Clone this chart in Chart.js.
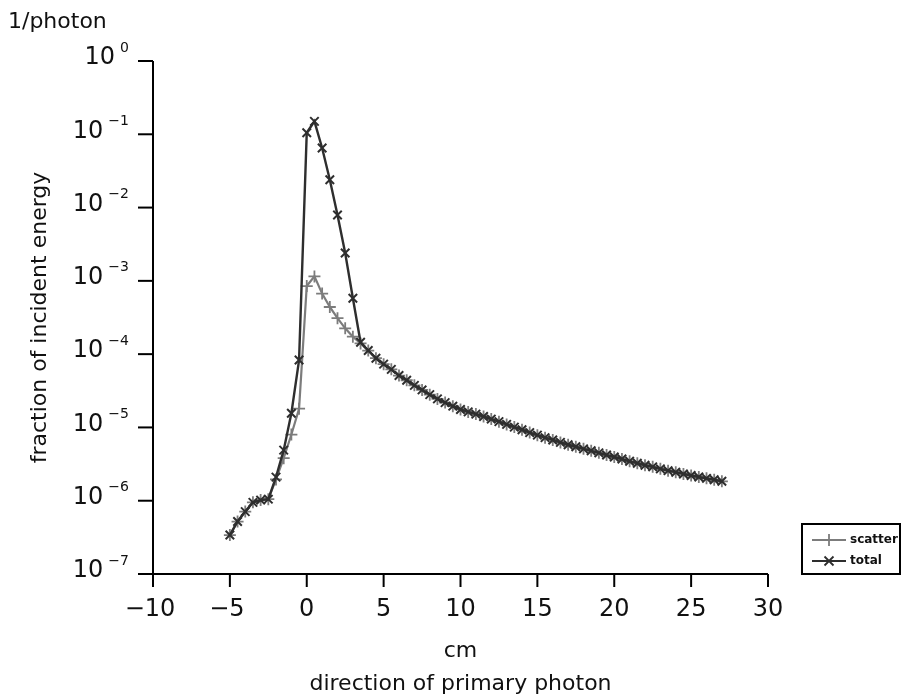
<!DOCTYPE html>
<html>
<head>
<meta charset="utf-8">
<script src="https://cdn.jsdelivr.net/npm/chart.js@4/dist/chart.umd.min.js"></script>
<style>
html, body { margin: 0; background: #fff; }
#caixa { width: 904px; height: 697px; }
</style>
</head>
<body>
<div id="caixa"><canvas id="grafico"></canvas></div>
<script>
// posicao (cm) ao longo da direcao do foton primario
const posicoes = [-5, -4.5, -4, -3.5, -3, -2.5, -2, -1.5, -1, -0.5, 0, 0.5, 1, 1.5, 2, 2.5, 3, 3.5,
    4, 4.5, 5, 5.5, 6, 6.5, 7, 7.5, 8, 8.5, 9, 9.5, 10, 10.5, 11, 11.5, 12, 12.5, 13, 13.5, 14, 14.5,
    15, 15.5, 16, 16.5, 17, 17.5, 18, 18.5, 19, 19.5, 20, 20.5, 21, 21.5, 22, 22.5, 23, 23.5, 24, 24.5,
    25, 25.5, 26, 26.5, 27];

const totalVals = [3.4e-7, 5.2e-7, 7.1e-7, 9.5e-7, 1.02e-6, 1.05e-6, 2.1e-6, 4.9e-6, 1.56e-5, 8.3e-5,
    0.105, 0.15, 0.065, 0.024, 0.0079, 0.0024, 5.8e-4, 1.45e-4,
    1.12e-4, 8.8e-5, 7.3e-5, 6.2e-5, 5.1e-5, 4.4e-5, 3.75e-5, 3.25e-5, 2.8e-5, 2.45e-5, 2.18e-5, 1.95e-5,
    1.76e-5, 1.63e-5, 1.52e-5, 1.41e-5, 1.30e-5, 1.20e-5, 1.10e-5, 1.01e-5, 9.3e-6, 8.5e-6,
    7.85e-6, 7.25e-6, 6.75e-6, 6.25e-6, 5.8e-6, 5.45e-6, 5.1e-6, 4.8e-6, 4.5e-6, 4.2e-6,
    3.95e-6, 3.7e-6, 3.45e-6, 3.25e-6, 3.05e-6, 2.9e-6, 2.72e-6, 2.57e-6, 2.45e-6, 2.32e-6,
    2.21e-6, 2.11e-6, 2.02e-6, 1.93e-6, 1.84e-6];

const scatterVals = [3.4e-7, 5.2e-7, 7.1e-7, 9.5e-7, 1.02e-6, 1.05e-6, 1.95e-6, 3.8e-6, 8.0e-6, 1.8e-5,
    8.5e-4, 1.15e-3, 6.7e-4, 4.4e-4, 3.1e-4, 2.25e-4, 1.73e-4, 1.4e-4,
    1.12e-4, 8.8e-5, 7.3e-5, 6.2e-5, 5.1e-5, 4.4e-5, 3.75e-5, 3.25e-5, 2.8e-5, 2.45e-5, 2.18e-5, 1.95e-5,
    1.76e-5, 1.63e-5, 1.52e-5, 1.41e-5, 1.30e-5, 1.20e-5, 1.10e-5, 1.01e-5, 9.3e-6, 8.5e-6,
    7.85e-6, 7.25e-6, 6.75e-6, 6.25e-6, 5.8e-6, 5.45e-6, 5.1e-6, 4.8e-6, 4.5e-6, 4.2e-6,
    3.95e-6, 3.7e-6, 3.45e-6, 3.25e-6, 3.05e-6, 2.9e-6, 2.72e-6, 2.57e-6, 2.45e-6, 2.32e-6,
    2.21e-6, 2.11e-6, 2.02e-6, 1.93e-6, 1.84e-6];

const ticksX = [-10, -5, 0, 5, 10, 15, 20, 25, 30];
const expoentesY = [0, -1, -2, -3, -4, -5, -6, -7];
const legendas = ['scatter', 'total'];

const FONTE = "'DejaVu Sans', sans-serif";
const COR_TOTAL = '#2e2e2e';
const COR_SCATTER = '#7c7c7c';

const pontos = vals => posicoes.map((x, i) => ({ x: x, y: vals[i] }));

function numero(v) {
    return v < 0 ? '\u2212' + Math.abs(v) : String(v);
}

function marcador(ctx, tipo, x, y, r) {
    ctx.beginPath();
    if (tipo === 'cross') {
        ctx.moveTo(x - r, y); ctx.lineTo(x + r, y);
        ctx.moveTo(x, y - r); ctx.lineTo(x, y + r);
    } else {
        const d = r * 0.75;
        ctx.moveTo(x - d, y - d); ctx.lineTo(x + d, y + d);
        ctx.moveTo(x - d, y + d); ctx.lineTo(x + d, y - d);
    }
    ctx.stroke();
}

const eixosPlugin = {
    id: 'eixos',
    afterDraw(chart) {
        const ctx = chart.ctx;
        const sx = chart.scales.x, sy = chart.scales.y;
        const area = chart.chartArea;
        ctx.save();
        ctx.strokeStyle = '#000';
        ctx.fillStyle = '#111';
        ctx.lineWidth = 2;

        // linhas dos eixos
        ctx.beginPath();
        ctx.moveTo(area.left - 8, area.bottom); ctx.lineTo(area.right, area.bottom);
        ctx.moveTo(area.left, area.top); ctx.lineTo(area.left, area.bottom + 6);
        ctx.stroke();

        // eixo x
        ctx.font = '24px ' + FONTE;
        ctx.textAlign = 'center';
        ctx.textBaseline = 'middle';
        ticksX.forEach(t => {
            const px = sx.getPixelForValue(t);
            ctx.beginPath(); ctx.moveTo(px, area.bottom); ctx.lineTo(px, area.bottom + 13); ctx.stroke();
            ctx.fillText(numero(t), px - (t < 0 ? 3 : 0), area.bottom + 36);
        });

        // eixo y (potencias de 10)
        expoentesY.forEach(e => {
            const py = sy.getPixelForValue(Math.pow(10, e));
            ctx.beginPath(); ctx.moveTo(area.left - 15, py); ctx.lineTo(area.left, py); ctx.stroke();
            ctx.font = '14px ' + FONTE;
            ctx.textAlign = 'right';
            const exp = numero(e);
            const wExp = ctx.measureText(exp).width;
            ctx.fillText(exp, area.left - 24, py - 13);
            ctx.font = '24px ' + FONTE;
            ctx.fillText('10', area.left - 24 - wExp - 5, py - 3);
        });

        // titulos
        ctx.font = '22px ' + FONTE;
        ctx.textAlign = 'left';
        ctx.fillText('1/photon', 8, 22);
        ctx.textAlign = 'center';
        ctx.fillText('cm', (area.left + area.right) / 2, 651);
        ctx.fillText('direction of primary photon', (area.left + area.right) / 2, 684);
        ctx.save();
        ctx.translate(40, (area.top + area.bottom) / 2);
        ctx.rotate(-Math.PI / 2);
        ctx.fillText('fraction of incident energy', 0, 0);
        ctx.restore();

        // legenda
        ctx.lineWidth = 2;
        ctx.strokeStyle = '#000';
        ctx.strokeRect(802, 524, 98, 50);
        ctx.font = 'bold 12px ' + FONTE;
        ctx.textAlign = 'left';
        const estilos = [[COR_SCATTER, 'cross'], [COR_TOTAL, 'crossRot']];
        legendas.forEach((txt, i) => {
            const y = 540 + i * 21;
            ctx.strokeStyle = estilos[i][0];
            ctx.lineWidth = 1.8;
            ctx.beginPath(); ctx.moveTo(812, y); ctx.lineTo(846, y); ctx.stroke();
            marcador(ctx, estilos[i][1], 829, y, 6);
            ctx.fillStyle = '#111';
            ctx.fillText(txt, 850, y);
        });
        ctx.restore();
    }
};

new Chart(document.getElementById('grafico'), {
    type: 'line',
    data: {
        datasets: [
            { label: legendas[0], data: pontos(scatterVals), borderColor: COR_SCATTER, borderWidth: 2.2,
              pointStyle: 'cross', pointRadius: 6, pointBorderColor: COR_SCATTER, pointBorderWidth: 1.8,
              tension: 0, fill: false, order: 1 },
            { label: legendas[1], data: pontos(totalVals), borderColor: COR_TOTAL, borderWidth: 2.4,
              pointStyle: 'crossRot', pointRadius: 6, pointBorderColor: COR_TOTAL, pointBorderWidth: 2,
              tension: 0, fill: false, order: 0 }
        ]
    },
    options: {
        responsive: true,
        maintainAspectRatio: false,
        animation: false,
        layout: { padding: { left: 153, top: 61, right: 136, bottom: 123 } },
        plugins: { legend: { display: false }, tooltip: { enabled: false } },
        scales: {
            x: { type: 'linear', min: -10, max: 30,
                 grid: { display: false, drawTicks: false }, border: { display: false },
                 ticks: { display: false } },
            y: { type: 'logarithmic', min: 1e-7, max: 1,
                 grid: { display: false, drawTicks: false }, border: { display: false },
                 ticks: { display: false } }
        }
    },
    plugins: [eixosPlugin]
});
</script>
</body>
</html>
